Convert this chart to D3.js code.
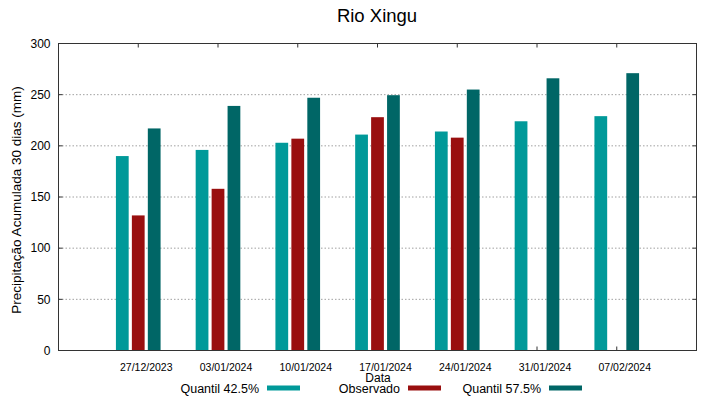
<!DOCTYPE html>
<html>
<head>
<meta charset="utf-8">
<script src="https://cdn.jsdelivr.net/npm/d3@7"></script>
<style>
  body { margin: 0; background: #fff; }
  text { font-family: "Liberation Sans", Arial, sans-serif; fill: #000; }
</style>
</head>
<body>
<div id="chart"></div>
<script>
// dates on the x axis
const dates = ['27/12/2023', '03/01/2024', '10/01/2024', '17/01/2024', '24/01/2024', '31/01/2024', '07/02/2024'];

// series values (mm)
const quantil425 = [190, 196, 203, 211, 214, 224, 229];
const observado = [132, 158, 207, 228, 208, null, null];
const quantil575 = [217, 239, 247, 249.5, 255, 266, 271];

const yTicks = [0, 50, 100, 150, 200, 250, 300];

const series = [
  { name: 'Quantil 42.5%', values: quantil425, color: '#009999' },
  { name: 'Observado', values: observado, color: '#990f0f' },
  { name: 'Quantil 57.5%', values: quantil575, color: '#006666' }
];

const chart = function () {
  var W = 719, H = 399;
  var margin = { top: 43.5, right: 22.5, bottom: 48.5, left: 58.5 },
    width = W - margin.left - margin.right,
    height = H - margin.top - margin.bottom;

  var svg = d3.select("#chart").append("svg")
    .attr("width", W)
    .attr("height", H);

  var g = svg.append("g")
    .attr("transform", "translate(" + margin.left + "," + margin.top + ")");

  // gnuplot-like histogram: groups at 0..6, xrange [-1, 7]
  var x = d3.scaleLinear().domain([-1, dates.length]).range([0, width]);
  var y = d3.scaleLinear().domain([0, 300]).range([height, 0]);

  var step = 0.2, bw = 0.16;

  // grid lines
  g.selectAll(".grid")
    .data(yTicks.filter(function (t) { return t > 0 && t < 300; }))
    .enter().append("line")
    .attr("x1", 0).attr("x2", width)
    .attr("y1", function (d) { return y(d); })
    .attr("y2", function (d) { return y(d); })
    .attr("stroke", "#a0a0a0")
    .attr("stroke-width", 1)
    .attr("stroke-dasharray", "1.5,2");

  // ticks (inward, mirrored)
  var tickLen = 4;
  yTicks.forEach(function (t) {
    g.append("line").attr("x1", 0).attr("x2", tickLen)
      .attr("y1", y(t)).attr("y2", y(t)).attr("stroke", "#333");
    g.append("line").attr("x1", width - tickLen).attr("x2", width)
      .attr("y1", y(t)).attr("y2", y(t)).attr("stroke", "#333");
  });
  dates.forEach(function (d, i) {
    g.append("line").attr("x1", x(i)).attr("x2", x(i))
      .attr("y1", 0).attr("y2", tickLen).attr("stroke", "#333");
    g.append("line").attr("x1", x(i)).attr("x2", x(i))
      .attr("y1", height).attr("y2", height - tickLen).attr("stroke", "#333");
  });

  // bars
  series.forEach(function (s, k) {
    g.selectAll(".bar" + k)
      .data(s.values.map(function (v, i) { return { i: i, v: v }; })
        .filter(function (d) { return d.v != null; }))
      .enter().append("rect")
      .attr("x", function (d) { return x(d.i + (k - 1) * step - bw / 2); })
      .attr("width", x(bw) - x(0))
      .attr("y", function (d) { return y(d.v); })
      .attr("height", function (d) { return height - y(d.v); })
      .attr("fill", s.color);
  });

  // border
  g.append("rect")
    .attr("x", 0).attr("y", 0)
    .attr("width", width).attr("height", height)
    .attr("fill", "none")
    .attr("stroke", "#333")
    .attr("stroke-width", 1);

  // y tick labels
  g.selectAll(".ylab")
    .data(yTicks)
    .enter().append("text")
    .attr("x", -8)
    .attr("y", function (d) { return y(d); })
    .attr("dy", "0.35em")
    .style("text-anchor", "end")
    .style("font-size", "12px")
    .text(function (d) { return d; });

  // x tick labels
  g.selectAll(".xlab")
    .data(dates)
    .enter().append("text")
    .attr("x", function (d, i) { return x(i) + 8; })
    .attr("y", height + 17)
    .attr("dy", "0.35em")
    .style("text-anchor", "middle")
    .style("font-size", "10.5px")
    .text(function (d) { return d; });

  // title
  svg.append("text")
    .attr("x", 377)
    .attr("y", 22)
    .style("text-anchor", "middle")
    .style("font-size", "18.5px")
    .text("Rio Xingu");

  // x axis label
  svg.append("text")
    .attr("x", 378)
    .attr("y", 377.5)
    .attr("dy", "0.35em")
    .style("text-anchor", "middle")
    .style("font-size", "12px")
    .text("Data");

  // y axis label
  svg.append("text")
    .attr("transform", "translate(16," + 200 + ") rotate(-90)")
    .attr("dy", "0.35em")
    .style("text-anchor", "middle")
    .style("font-size", "13.5px")
    .text("Precipitação Acumulada 30 dias (mm)");

  // legend
  var legendX = [259, 400, 541];
  series.forEach(function (s, k) {
    svg.append("text")
      .attr("x", legendX[k])
      .attr("y", 388.5)
      .attr("dy", "0.35em")
      .style("text-anchor", "end")
      .style("font-size", "12.5px")
      .text(s.name);
    svg.append("rect")
      .attr("x", legendX[k] + 8)
      .attr("y", 385.5)
      .attr("width", 33)
      .attr("height", 5)
      .attr("fill", s.color);
  });
};

chart();
</script>
</body>
</html>
